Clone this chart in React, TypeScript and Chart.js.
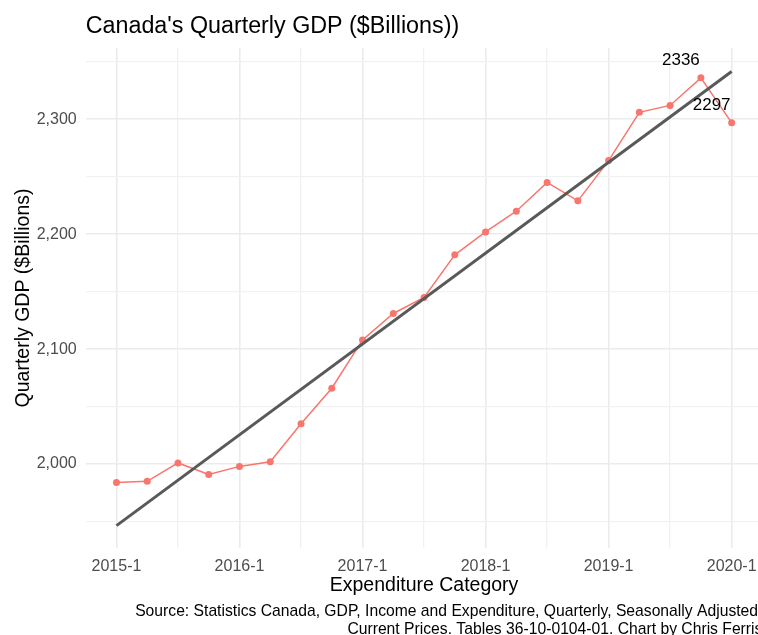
import React, { useEffect, useRef } from "react";
import { Chart, registerables } from "chart.js";

Chart.register(...registerables);

// ---------- data ----------
const quarters = [
  "2015-1", "2015-2", "2015-3", "2015-4",
  "2016-1", "2016-2", "2016-3", "2016-4",
  "2017-1", "2017-2", "2017-3", "2017-4",
  "2018-1", "2018-2", "2018-3", "2018-4",
  "2019-1", "2019-2", "2019-3", "2019-4",
  "2020-1",
];
const gdp = [
  1984, 1985, 2001, 1991,
  1998, 2002, 2035, 2066,
  2108, 2131, 2145, 2182,
  2202, 2220, 2245, 2229,
  2264, 2306, 2312, 2336,
  2297,
];
// linear trend (fitted line) end points
const trendIndex = [0, 20];
const trendValues = [1946.5, 2341.5];
// points that carry a value label
const labelIndex = [19, 20];
// axis ticks
const yTicks = [1950, 2000, 2050, 2100, 2150, 2200, 2250, 2300, 2350];
const yLabelled = [2000, 2100, 2200, 2300];
const xTicks = [0, 2, 4, 6, 8, 10, 12, 14, 16, 18, 20];
const xLabelled = [0, 4, 8, 12, 16, 20];

const titleText = "Canada's Quarterly GDP ($Billions))";
const xTitle = "Expenditure Category";
const yTitle = "Quarterly GDP ($Billions)";
const captionLines = [
  "Source: Statistics Canada, GDP, Income and Expenditure, Quarterly, Seasonally Adjusted,",
  "Current Prices. Tables 36-10-0104-01. Chart by Chris Ferris",
];

const FONT = '"Liberation Sans", Arial, Helvetica, sans-serif';

const pointLabelPlugin = {
  id: "pointLabels",
  afterDatasetsDraw(chart: any) {
    const { ctx, scales } = chart;
    const x = scales.x;
    const y = scales.y;
    ctx.save();
    ctx.font = `17px ${FONT}`;
    ctx.fillStyle = "#000000";
    ctx.textAlign = "center";
    ctx.textBaseline = "middle";
    labelIndex.forEach((i) => {
      ctx.fillText(
        String(gdp[i]),
        x.getPixelForValue(i - 0.65),
        y.getPixelForValue(gdp[i] + 15)
      );
    });
    ctx.restore();
  },
};

export default function App() {
  const ref = useRef<HTMLCanvasElement>(null);

  useEffect(() => {
    if (!ref.current) return;
    Chart.defaults.font.family = FONT;
    const chart = new Chart(ref.current, {
      type: "line",
      data: {
        datasets: [
          {
            label: "trend",
            data: trendIndex.map((xi, k) => ({ x: xi, y: trendValues[k] })),
            borderColor: "#595959",
            borderWidth: 3,
            pointRadius: 0,
            fill: false,
          },
          {
            label: "GDP",
            data: gdp.map((v, i) => ({ x: i, y: v })),
            borderColor: "#F8766D",
            backgroundColor: "#F8766D",
            borderWidth: 1.5,
            pointRadius: 3.5,
            pointBorderWidth: 0,
            pointBackgroundColor: "#F8766D",
            fill: false,
            tension: 0,
          },
        ],
      },
      options: {
        responsive: false,
        animation: false,
        events: [],
        layout: { padding: { left: 0, right: 7.6, top: 0, bottom: -4 } },
        plugins: {
          legend: { display: false },
          tooltip: { enabled: false },
          title: {
            display: true,
            text: titleText,
            align: "start",
            fullSize: false,
            color: "#000000",
            font: { size: 23.3, weight: "normal", family: FONT },
            padding: { top: 12.5, bottom: 7.5 },
          },
          subtitle: {
            display: true,
            position: "bottom",
            text: captionLines,
            align: "end",
            fullSize: false,
            color: "#000000",
            font: { size: 15.7, weight: "normal", family: FONT, lineHeight: 18 / 15.7 },
            padding: { top: 4, bottom: 0 },
          },
        },
        scales: {
          x: {
            type: "linear",
            min: -1,
            max: 21,
            afterBuildTicks: (scale: any) => {
              scale.ticks = xTicks.map((v) => ({ value: v }));
            },
            afterFit: (scale: any) => {
              scale.height = 51;
            },
            border: { display: false },
            grid: {
              drawTicks: false,
              color: (c: any) =>
                c.tick && xLabelled.includes(c.tick.value) ? "#EBEBEB" : "#F1F1F1",
              lineWidth: (c: any) =>
                c.tick && xLabelled.includes(c.tick.value) ? 1.6 : 1.3,
            },
            ticks: {
              autoSkip: false,
              maxRotation: 0,
              padding: 9,
              color: "#4D4D4D",
              font: { size: 16, family: FONT },
              callback: (v: any) => (xLabelled.includes(v) ? quarters[v] : ""),
            },
            title: {
              display: true,
              text: xTitle,
              color: "#000000",
              font: { size: 19.5, family: FONT },
              padding: { top: 0, bottom: 1.5 },
            },
          },
          y: {
            type: "linear",
            min: 1927,
            max: 2362,
            afterBuildTicks: (scale: any) => {
              scale.ticks = yTicks.map((v) => ({ value: v }));
            },
            afterFit: (scale: any) => {
              scale.width = 85.7;
            },
            border: { display: false },
            grid: {
              drawTicks: false,
              color: (c: any) =>
                c.tick && yLabelled.includes(c.tick.value) ? "#EBEBEB" : "#F1F1F1",
              lineWidth: (c: any) =>
                c.tick && yLabelled.includes(c.tick.value) ? 1.6 : 1.3,
            },
            ticks: {
              autoSkip: false,
              padding: 9,
              color: "#4D4D4D",
              font: { size: 16, family: FONT },
              callback: (v: any) =>
                yLabelled.includes(v) ? Number(v).toLocaleString("en-US") : "",
            },
            title: {
              display: true,
              text: yTitle,
              color: "#000000",
              font: { size: 19.5, family: FONT },
              padding: { top: 12, bottom: 0 },
            },
          },
        },
      },
      plugins: [pointLabelPlugin],
    } as any);
    return () => chart.destroy();
  }, []);

  return (
    <div
      style={{
        position: "fixed",
        left: 0,
        top: 0,
        width: 758,
        height: 635,
        overflow: "hidden",
        background: "#ffffff",
      }}
    >
      <canvas
        ref={ref}
        width={770}
        height={635}
        style={{ display: "block", width: 770, height: 635 }}
      />
    </div>
  );
}
